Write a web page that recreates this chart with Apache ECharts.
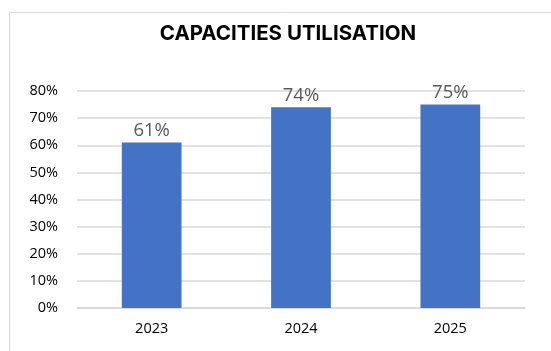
<!DOCTYPE html>
<html>
<head>
<meta charset="utf-8">
<script src="https://cdn.jsdelivr.net/npm/echarts@6/dist/echarts.min.js"></script>
<style>
  html, body { margin: 0; padding: 0; background: #fff; }
  #chart { width: 551px; height: 351px; }
</style>
</head>
<body>
<div id="chart"></div>
<script>
const years = ['2023', '2024', '2025'];
const utilisation = [61, 74, 75];
const yTicks = { min: 0, max: 80, interval: 10 };

const myChart = echarts.init(document.getElementById('chart'));
myChart.setOption({
  animation: false,
  title: {
    text: 'CAPACITIES UTILISATION',
    left: 283,
    top: 18,
    textAlign: 'center',
    textStyle: { fontFamily: 'Inter', fontWeight: 'bold', fontSize: 20.5, color: '#000' }
  },
  // chart area frame (only top/left edges fall inside the picture)
  graphic: [{
    type: 'rect',
    shape: { x: 9.5, y: 12.5, width: 600, height: 400 },
    style: { fill: 'none', stroke: '#d9d9d9', lineWidth: 1 },
    silent: true
  }],
  grid: { left: 77, right: 26, top: 91, bottom: 43 },
  xAxis: {
    type: 'category',
    data: years,
    axisTick: { show: false },
    axisLine: { lineStyle: { color: '#d9d9d9', width: 1.5 } },
    axisLabel: { fontFamily: 'Open Sans', fontSize: 14.5, color: '#000', margin: 13 }
  },
  yAxis: {
    type: 'value',
    min: yTicks.min,
    max: yTicks.max,
    interval: yTicks.interval,
    axisLabel: {
      fontFamily: 'Open Sans', fontSize: 14.5, color: '#000', margin: 19,
      formatter: (v) => v + '%'
    },
    splitLine: { lineStyle: { color: '#d9d9d9', width: 1.5 } }
  },
  series: [{
    type: 'bar',
    data: utilisation,
    barWidth: '40%',
    itemStyle: { color: '#4472C4' },
    label: {
      show: true,
      position: 'top',
      distance: 2,
      fontFamily: 'Open Sans',
      fontSize: 18.5,
      color: '#595959',
      formatter: (p) => p.value + '%'
    }
  }]
});
</script>
</body>
</html>
